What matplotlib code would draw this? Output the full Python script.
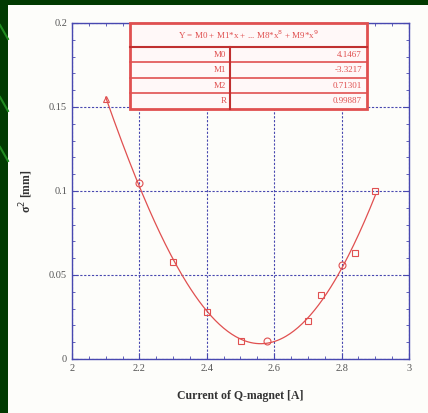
import numpy as np
import matplotlib
matplotlib.use("Agg")
import matplotlib.pyplot as plt
from matplotlib.patches import Rectangle
from matplotlib.lines import Line2D

# data
current = [2.1, 2.2, 2.3, 2.4, 2.5, 2.58, 2.7, 2.74, 2.8, 2.84, 2.9]
sigma2 = [0.155, 0.105, 0.058, 0.028, 0.011, 0.011, 0.0226, 0.038, 0.056, 0.063, 0.100]
markers = ['^', 'o', 's', 's', 's', 'o', 's', 's', 'o', 's', 's']
xticks = [2, 2.2, 2.4, 2.6, 2.8, 3]
xticklabels = ['2', '2.2', '2.4', '2.6', '2.8', '3']
yticks = [0, 0.05, 0.1, 0.15, 0.2]
yticklabels = ['0', '0.05', '0.1', '0.15', '0.2']
table_header = "Y = M0 + M1*x + ... M8*x$^8$ + M9*x$^9$"
table_names = ['M0', 'M1', 'M2', 'R']
table_values = ['4.1467', '-3.3217', '0.71301', '0.99887']

W, H = 428, 413
fig = plt.figure(figsize=(W/100, H/100), dpi=100, facecolor='#013a01')
# white panel
fig.add_artist(Rectangle((8/W, 0), 1 - 8/W, 1 - 5/H, transform=fig.transFigure,
                         facecolor='#fdfdfa', edgecolor='none', zorder=-10))
# decorative green lines on left strip
for y0 in [25, 97, 147]:
    fig.add_artist(Line2D([0, 8/W], [1 - y0/H, 1 - (y0 + 14)/H], color='#1f8a1f', lw=1.5,
                          transform=fig.transFigure, zorder=-5))

ax = fig.add_axes([72/W, 1 - 359/H, 337/W, 336/H])
ax.set_facecolor('none')
ax.set_xlim(2, 3)
ax.set_ylim(0, 0.2)

red = '#e05050'
coef = np.polyfit(current, sigma2, 4)
xs = np.linspace(min(current), max(current), 200)
ax.plot(xs, np.polyval(coef, xs), color=red, lw=0.9, zorder=3)
for x, y, m in zip(current, sigma2, markers):
    ax.plot([x], [y], marker=m, ms=5, mfc='none', mec=red, mew=0.8, zorder=4)

blue = '#4848b0'
for s in ax.spines.values():
    s.set_color(blue)
    s.set_linewidth(1.0)
ax.set_xticks(xticks)
ax.set_xticklabels(xticklabels)
ax.set_yticks(yticks)
ax.set_yticklabels(yticklabels)
ax.set_xticks(np.arange(2, 3.0001, 0.05), minor=True)
ax.set_yticks(np.arange(0, 0.2001, 0.01), minor=True)
ax.tick_params(which='both', direction='in', top=True, right=True, colors=blue,
               labelcolor='#555555', labelsize=7.5)
ax.tick_params(which='major', length=4, width=0.8)
ax.tick_params(which='minor', length=2, width=0.6)
for lbl in ax.get_xticklabels() + ax.get_yticklabels():
    lbl.set_fontfamily('Liberation Serif')
ax.grid(True, which='major', color=blue, linestyle=(0, (2, 1.5)), lw=0.8)

ax.set_xlabel('Current of Q-magnet [A]', fontfamily='Liberation Serif', fontweight='bold',
              fontsize=8.5, color='#333333', labelpad=12)
ax.set_ylabel('σ$^2$ [mm]', fontfamily='Liberation Serif', fontweight='bold',
              fontsize=8.5, color='#333333', labelpad=10)

# fit table
x0, x1 = 0.172, 0.875
ytop, ybot = 1.0, 0.744
yhead = 0.929
xdiv = 0.468
tr = ax.transAxes
ax.add_patch(Rectangle((x0, ybot), x1 - x0, ytop - ybot, transform=tr, facecolor='#fff8f8',
                       edgecolor=red, lw=2.0, zorder=5, clip_on=False))
ax.plot([x0, x1], [yhead, yhead], color='#c03030', lw=1.5, transform=tr, zorder=6, clip_on=False)
nrows = len(table_names)
rh = (yhead - ybot) / nrows
for i in range(1, nrows):
    yy = yhead - i * rh
    ax.plot([x0, x1], [yy, yy], color=red, lw=1.2, transform=tr, zorder=6, clip_on=False)
ax.plot([xdiv, xdiv], [ybot, yhead], color='#c03030', lw=1.5, transform=tr, zorder=6, clip_on=False)
ax.text((x0 + x1) / 2, (ytop + yhead) / 2, table_header, transform=tr, ha='center', va='center',
        fontsize=6.5, color=red, fontfamily='Liberation Serif', zorder=7)
for i, (n, v) in enumerate(zip(table_names, table_values)):
    yc = yhead - (i + 0.5) * rh
    ax.text(xdiv - 0.01, yc, n, transform=tr, ha='right', va='center', fontsize=6.5,
            color=red, fontfamily='Liberation Serif', zorder=7)
    ax.text(x1 - 0.015, yc, v, transform=tr, ha='right', va='center', fontsize=6.5,
            color=red, fontfamily='Liberation Serif', zorder=7)

fig.savefig('out.png', dpi=100, facecolor=fig.get_facecolor())
